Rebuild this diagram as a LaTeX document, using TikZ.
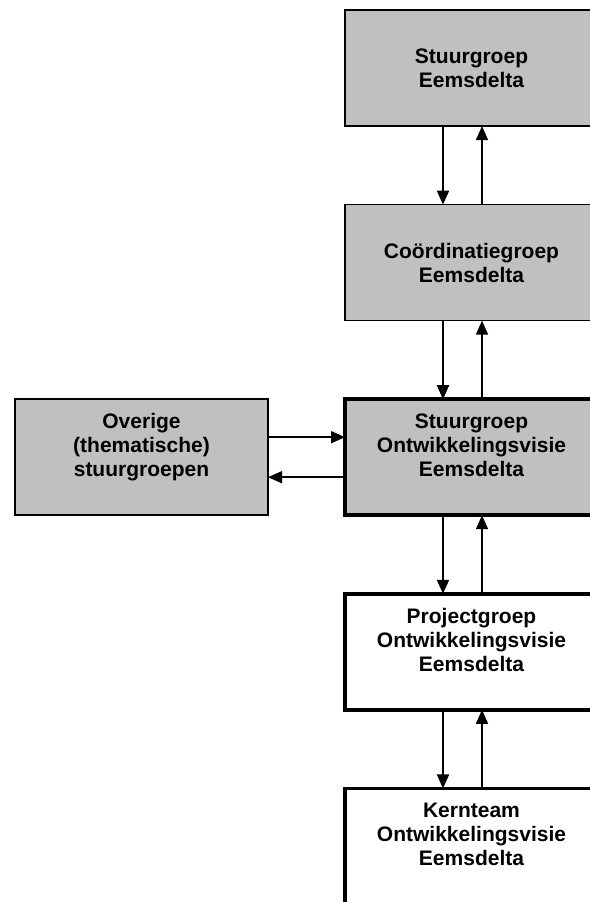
\documentclass[tikz,border=0pt]{standalone}
\usepackage{fontspec}
\setmainfont{Liberation Sans}
\usetikzlibrary{positioning}
\usetikzlibrary{arrows.meta}
\definecolor{boxgray}{HTML}{C0C0C0}

\begin{document}
\begin{tikzpicture}[x=0.5pt, y=-0.5pt, node distance=39.3pt, >={Triangle[length=7pt,width=6pt]},
        every node/.style={font=\bfseries\fontsize{10.5}{12}\selectfont, align=center},
        box/.style={draw, rectangle, minimum width=126.5pt, minimum height=58pt, inner sep=0pt, outer sep=0pt, line width=0.8pt},
        graybox/.style={box, fill=boxgray},
        heavy/.style={line width=1.8pt}]
        \useasboundingbox (0,0) rectangle (590,902);
        \clip (0,0) rectangle (590,902);

        % Right column, top to bottom
        % Stuurgroep Eemsdelta
        \node[graybox, anchor=north west] (sge) at (345,10) {Stuurgroep\\Eemsdelta};
        % Coordinatiegroep Eemsdelta
        \node[graybox, below=of sge] (cge) {Coördinatiegroep\\Eemsdelta};
        % Stuurgroep Ontwikkelingsvisie
        \node[graybox, heavy, below=of cge] (sgo) {Stuurgroep\\Ontwikkelingsvisie\\Eemsdelta\\~};
        % Projectgroep Ontwikkelingsvisie
        \node[box, heavy, below=of sgo] (pgo) {Projectgroep\\Ontwikkelingsvisie\\Eemsdelta\\~};
        % Kernteam Ontwikkelingsvisie
        \node[box, heavy, below=of pgo] (kto) {Kernteam\\Ontwikkelingsvisie\\Eemsdelta\\~};

        % Left box
        % Overige stuurgroepen
        \node[graybox, left=38.5pt of sgo] (osg) {Overige\\(thematische)\\stuurgroepen\\~};

        % Arrows down (left) and up (right) between the column boxes
        \draw[->, line width=1pt] ([xshift=49pt]sge.south west) -- ([xshift=49pt]cge.north west);
        \draw[<-, line width=0.7pt] ([xshift=68.5pt]sge.south west) -- ([xshift=68.5pt]cge.north west);
        \draw[->, line width=1pt] ([xshift=49pt]cge.south west) -- ([xshift=49pt]sgo.north west);
        \draw[<-, line width=0.7pt] ([xshift=68.5pt]cge.south west) -- ([xshift=68.5pt]sgo.north west);
        \draw[->, line width=1pt] ([xshift=49pt]sgo.south west) -- ([xshift=49pt]pgo.north west);
        \draw[<-, line width=0.7pt] ([xshift=68.5pt]sgo.south west) -- ([xshift=68.5pt]pgo.north west);
        \draw[->, line width=1pt] ([xshift=49pt]pgo.south west) -- ([xshift=49pt]kto.north west);
        \draw[<-, line width=0.7pt] ([xshift=68.5pt]pgo.south west) -- ([xshift=68.5pt]kto.north west);

        % Arrows between left box and Stuurgroep Ontwikkelingsvisie
        \draw[->, line width=0.8pt] ([yshift=-19pt]osg.north east) -- ([yshift=-19pt]sgo.north west);
        \draw[<-, line width=0.8pt] ([yshift=-39pt]osg.north east) -- ([yshift=-39pt]sgo.north west);
\end{tikzpicture}
\end{document}
